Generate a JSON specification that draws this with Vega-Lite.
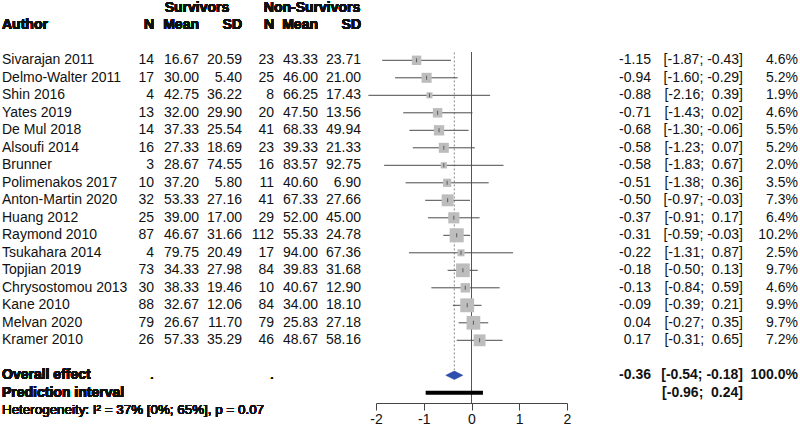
{
  "$schema": "https://vega.github.io/schema/vega-lite/v6.json",
  "padding": 0,
  "autosize": {"type": "pad"},
  "spacing": 0,
  "bounds": "flush",
  "config": {
    "view": {"stroke": null},
    "font": "Liberation Sans",
    "mark": {"font": "Liberation Sans", "fontSize": 14},
    "text": {"font": "Liberation Sans", "fontSize": 14, "color": "#111", "baseline": "middle"},
    "locale": {"number": {"decimal": ".", "thousands": ",", "grouping": [3], "currency": ["$", ""], "minus": "-"}}
  },
  "datasets": {
    "studies": [
      {"row": 1, "author": "Sivarajan 2011", "n1": 14, "m1": 16.67, "sd1": 20.59, "n2": 23, "m2": 43.33, "sd2": 23.71, "g": -1.15, "lo": -1.87, "hi": -0.43, "ci": "[-1.87; -0.43]", "w": 0.046},
      {"row": 2, "author": "Delmo-Walter 2011", "n1": 17, "m1": 30.00, "sd1": 5.40, "n2": 25, "m2": 46.00, "sd2": 21.00, "g": -0.94, "lo": -1.60, "hi": -0.29, "ci": "[-1.60; -0.29]", "w": 0.052},
      {"row": 3, "author": "Shin 2016", "n1": 4, "m1": 42.75, "sd1": 36.22, "n2": 8, "m2": 66.25, "sd2": 17.43, "g": -0.88, "lo": -2.16, "hi": 0.39, "ci": "[-2.16; \u00a00.39]", "w": 0.019},
      {"row": 4, "author": "Yates 2019", "n1": 13, "m1": 32.00, "sd1": 29.90, "n2": 20, "m2": 47.50, "sd2": 13.56, "g": -0.71, "lo": -1.43, "hi": 0.02, "ci": "[-1.43; \u00a00.02]", "w": 0.046},
      {"row": 5, "author": "De Mul 2018", "n1": 14, "m1": 37.33, "sd1": 25.54, "n2": 41, "m2": 68.33, "sd2": 49.94, "g": -0.68, "lo": -1.30, "hi": -0.06, "ci": "[-1.30; -0.06]", "w": 0.055},
      {"row": 6, "author": "Alsoufi 2014", "n1": 16, "m1": 27.33, "sd1": 18.69, "n2": 23, "m2": 39.33, "sd2": 21.33, "g": -0.58, "lo": -1.23, "hi": 0.07, "ci": "[-1.23; \u00a00.07]", "w": 0.052},
      {"row": 7, "author": "Brunner", "n1": 3, "m1": 28.67, "sd1": 74.55, "n2": 16, "m2": 83.57, "sd2": 92.75, "g": -0.58, "lo": -1.83, "hi": 0.67, "ci": "[-1.83; \u00a00.67]", "w": 0.020},
      {"row": 8, "author": "Polimenakos 2017", "n1": 10, "m1": 37.20, "sd1": 5.80, "n2": 11, "m2": 40.60, "sd2": 6.90, "g": -0.51, "lo": -1.38, "hi": 0.36, "ci": "[-1.38; \u00a00.36]", "w": 0.035},
      {"row": 9, "author": "Anton-Martin 2020", "n1": 32, "m1": 53.33, "sd1": 27.16, "n2": 41, "m2": 67.33, "sd2": 27.66, "g": -0.50, "lo": -0.97, "hi": -0.03, "ci": "[-0.97; -0.03]", "w": 0.073},
      {"row": 10, "author": "Huang 2012", "n1": 25, "m1": 39.00, "sd1": 17.00, "n2": 29, "m2": 52.00, "sd2": 45.00, "g": -0.37, "lo": -0.91, "hi": 0.17, "ci": "[-0.91; \u00a00.17]", "w": 0.064},
      {"row": 11, "author": "Raymond 2010", "n1": 87, "m1": 46.67, "sd1": 31.66, "n2": 112, "m2": 55.33, "sd2": 24.78, "g": -0.31, "lo": -0.59, "hi": -0.03, "ci": "[-0.59; -0.03]", "w": 0.102},
      {"row": 12, "author": "Tsukahara 2014", "n1": 4, "m1": 79.75, "sd1": 20.49, "n2": 17, "m2": 94.00, "sd2": 67.36, "g": -0.22, "lo": -1.31, "hi": 0.87, "ci": "[-1.31; \u00a00.87]", "w": 0.025},
      {"row": 13, "author": "Topjian 2019", "n1": 73, "m1": 34.33, "sd1": 27.98, "n2": 84, "m2": 39.83, "sd2": 31.68, "g": -0.18, "lo": -0.50, "hi": 0.13, "ci": "[-0.50; \u00a00.13]", "w": 0.097},
      {"row": 14, "author": "Chrysostomou 2013", "n1": 30, "m1": 38.33, "sd1": 19.46, "n2": 10, "m2": 40.67, "sd2": 12.90, "g": -0.13, "lo": -0.84, "hi": 0.59, "ci": "[-0.84; \u00a00.59]", "w": 0.046},
      {"row": 15, "author": "Kane 2010", "n1": 88, "m1": 32.67, "sd1": 12.06, "n2": 84, "m2": 34.00, "sd2": 18.10, "g": -0.09, "lo": -0.39, "hi": 0.21, "ci": "[-0.39; \u00a00.21]", "w": 0.099},
      {"row": 16, "author": "Melvan 2020", "n1": 79, "m1": 26.67, "sd1": 11.70, "n2": 79, "m2": 25.83, "sd2": 27.18, "g": 0.04, "lo": -0.27, "hi": 0.35, "ci": "[-0.27; \u00a00.35]", "w": 0.097},
      {"row": 17, "author": "Kramer 2010", "n1": 26, "m1": 57.33, "sd1": 35.29, "n2": 46, "m2": 48.67, "sd2": 58.16, "g": 0.17, "lo": -0.31, "hi": 0.65, "ci": "[-0.31; \u00a00.65]", "w": 0.072}
    ],
    "overall": [
      {"row": 19, "g": -0.36, "lo": -0.54, "hi": -0.18, "ci": "[-0.54; -0.18]", "w": 1.0}
    ],
    "prediction": [
      {"row": 20, "lo": -0.96, "hi": 0.24, "ci": "[-0.96; \u00a00.24]"}
    ]
  },
  "hconcat": [
    {
      "width": 376,
      "height": 402,
      "data": {"name": "studies"},
      "encoding": {
        "y": {"field": "row", "type": "quantitative", "scale": {"domain": [-2.389, 20.583], "reverse": true, "nice": false, "zero": false}, "axis": null}
      },
      "layer": [
        {"mark": {"type": "text", "align": "left", "fontSize": 14}, "encoding": {"x": {"datum": 2, "type": "quantitative", "scale": {"domain": [0, 376], "nice": false, "zero": false}, "axis": null}, "text": {"field": "author"}}},
        {"mark": {"type": "text", "align": "right", "fontSize": 14}, "encoding": {"x": {"datum": 154, "type": "quantitative"}, "text": {"field": "n1"}}},
        {"mark": {"type": "text", "align": "right", "fontSize": 14}, "encoding": {"x": {"datum": 199, "type": "quantitative"}, "text": {"field": "m1", "format": ".2f"}}},
        {"mark": {"type": "text", "align": "right", "fontSize": 14}, "encoding": {"x": {"datum": 242, "type": "quantitative"}, "text": {"field": "sd1", "format": ".2f"}}},
        {"mark": {"type": "text", "align": "right", "fontSize": 14}, "encoding": {"x": {"datum": 274, "type": "quantitative"}, "text": {"field": "n2"}}},
        {"mark": {"type": "text", "align": "right", "fontSize": 14}, "encoding": {"x": {"datum": 318, "type": "quantitative"}, "text": {"field": "m2", "format": ".2f"}}},
        {"mark": {"type": "text", "align": "right", "fontSize": 14}, "encoding": {"x": {"datum": 361, "type": "quantitative"}, "text": {"field": "sd2", "format": ".2f"}}},
        {"mark": {"type": "text", "align": "center", "fontSize": 14, "fontWeight": "bold", "text": "Survivors"}, "encoding": {"x": {"datum": 197, "type": "quantitative"}, "y": {"datum": -2}}},
        {"mark": {"type": "text", "align": "center", "fontSize": 14, "fontWeight": "bold", "text": "Non-Survivors"}, "encoding": {"x": {"datum": 312, "type": "quantitative"}, "y": {"datum": -2}}},
        {"mark": {"type": "text", "align": "left", "fontSize": 14, "fontWeight": "bold", "text": "Author"}, "encoding": {"x": {"datum": 2, "type": "quantitative"}, "y": {"datum": -1}}},
        {"mark": {"type": "text", "align": "right", "fontSize": 14, "fontWeight": "bold", "text": "N"}, "encoding": {"x": {"datum": 154, "type": "quantitative"}, "y": {"datum": -1}}},
        {"mark": {"type": "text", "align": "right", "fontSize": 14, "fontWeight": "bold", "text": "Mean"}, "encoding": {"x": {"datum": 199, "type": "quantitative"}, "y": {"datum": -1}}},
        {"mark": {"type": "text", "align": "right", "fontSize": 14, "fontWeight": "bold", "text": "SD"}, "encoding": {"x": {"datum": 242, "type": "quantitative"}, "y": {"datum": -1}}},
        {"mark": {"type": "text", "align": "right", "fontSize": 14, "fontWeight": "bold", "text": "N"}, "encoding": {"x": {"datum": 274, "type": "quantitative"}, "y": {"datum": -1}}},
        {"mark": {"type": "text", "align": "right", "fontSize": 14, "fontWeight": "bold", "text": "Mean"}, "encoding": {"x": {"datum": 318, "type": "quantitative"}, "y": {"datum": -1}}},
        {"mark": {"type": "text", "align": "right", "fontSize": 14, "fontWeight": "bold", "text": "SD"}, "encoding": {"x": {"datum": 361, "type": "quantitative"}, "y": {"datum": -1}}},
        {"mark": {"type": "text", "align": "left", "fontSize": 14, "fontWeight": "bold", "text": "Overall effect"}, "encoding": {"x": {"datum": 2, "type": "quantitative"}, "y": {"datum": 19}}},
        {"mark": {"type": "text", "align": "right", "fontSize": 14, "text": "."}, "encoding": {"x": {"datum": 154, "type": "quantitative"}, "y": {"datum": 19}}},
        {"mark": {"type": "text", "align": "right", "fontSize": 14, "text": "."}, "encoding": {"x": {"datum": 274, "type": "quantitative"}, "y": {"datum": 19}}},
        {"mark": {"type": "text", "align": "left", "fontSize": 14, "fontWeight": "bold", "text": "Prediction interval"}, "encoding": {"x": {"datum": 2, "type": "quantitative"}, "y": {"datum": 20}}},
        {"mark": {"type": "text", "align": "left", "fontSize": 13.4, "text": "Heterogeneity: I² = 37% [0%; 65%], p = 0.07"}, "encoding": {"x": {"datum": 2, "type": "quantitative"}, "y": {"datum": 21}}}
      ]
    },
    {
      "width": 191,
      "height": 402,
      "encoding": {
        "y": {"field": "row", "type": "quantitative", "scale": {"domain": [-2.389, 20.583], "reverse": true, "nice": false, "zero": false}, "axis": null}
      },
      "layer": [
        {
          "data": {"name": "studies"},
          "mark": {"type": "rule", "color": "#555", "strokeWidth": 1},
          "encoding": {
            "x": {"datum": 0, "type": "quantitative", "scale": {"domain": [-2, 2], "nice": false, "zero": false},
              "axis": {"values": [-2, -1, 0, 1, 2], "title": null, "grid": false, "tickSize": 7, "labelFontSize": 14, "labelFont": "Liberation Sans", "labelColor": "#111", "domainColor": "#444", "tickColor": "#444", "labelPadding": 2, "labelFlush": false}},
            "y": {"datum": 0.55},
            "y2": {"datum": 20.583}
          }
        },
        {
          "data": {"name": "overall"},
          "mark": {"type": "rule", "color": "#888", "strokeWidth": 1, "strokeDash": [2, 2]},
          "encoding": {
            "x": {"field": "g", "type": "quantitative"},
            "y": {"datum": 0.55},
            "y2": {"datum": 18.7}
          }
        },
        {
          "data": {"name": "studies"},
          "mark": {"type": "rule", "color": "#4a4a4a", "strokeWidth": 1},
          "encoding": {
            "x": {"field": "lo", "type": "quantitative"},
            "x2": {"field": "hi"},
            "y": {"field": "row", "type": "quantitative"}
          }
        },
        {
          "data": {"name": "studies"},
          "mark": {"type": "point", "shape": "square", "filled": true, "color": "#bdbdbd", "opacity": 1},
          "encoding": {
            "x": {"field": "g", "type": "quantitative"},
            "y": {"field": "row", "type": "quantitative"},
            "size": {"field": "w", "type": "quantitative", "scale": {"type": "linear", "domain": [0, 0.1], "range": [0, 194], "zero": true}, "legend": null}
          }
        },
        {
          "data": {"name": "studies"},
          "mark": {"type": "tick", "orient": "vertical", "color": "#333", "size": 4, "thickness": 1},
          "encoding": {
            "x": {"field": "g", "type": "quantitative"},
            "y": {"field": "row", "type": "quantitative"}
          }
        },
        {
          "data": {"name": "overall"},
          "mark": {"type": "point", "shape": "M-1,0L0,-0.5L1,0L0,0.5Z", "filled": true, "color": "#2f4fb0", "stroke": "#223d96", "strokeWidth": 0.5, "opacity": 1, "size": 289},
          "encoding": {
            "x": {"field": "g", "type": "quantitative"},
            "y": {"field": "row", "type": "quantitative"}
          }
        },
        {
          "data": {"name": "prediction"},
          "mark": {"type": "rule", "color": "#000", "strokeWidth": 4},
          "encoding": {
            "x": {"field": "lo", "type": "quantitative"},
            "x2": {"field": "hi"},
            "y": {"field": "row", "type": "quantitative"}
          }
        },
        {
          "data": {"values": [{}]},
          "mark": {"type": "text", "align": "center", "fontSize": 14, "fontWeight": "bold", "text": "Duration of CPR"},
          "encoding": {"x": {"datum": -0.08, "type": "quantitative"}, "y": {"datum": -1}}
        }
      ]
    },
    {
      "width": 233,
      "height": 402,
      "encoding": {
        "y": {"field": "row", "type": "quantitative", "scale": {"domain": [-2.389, 20.583], "reverse": true, "nice": false, "zero": false}, "axis": null}
      },
      "layer": [
        {"data": {"name": "studies"}, "mark": {"type": "text", "align": "right", "fontSize": 14}, "encoding": {"x": {"datum": 84, "type": "quantitative", "scale": {"domain": [0, 233], "nice": false, "zero": false}, "axis": null}, "text": {"field": "g", "format": ".2f"}}},
        {"data": {"name": "studies"}, "mark": {"type": "text", "align": "right", "fontSize": 14}, "encoding": {"x": {"datum": 176, "type": "quantitative"}, "text": {"field": "ci"}}},
        {"data": {"name": "studies"}, "mark": {"type": "text", "align": "right", "fontSize": 14}, "encoding": {"x": {"datum": 231, "type": "quantitative"}, "text": {"field": "w", "format": ".1%"}}},
        {"data": {"name": "overall"}, "mark": {"type": "text", "align": "right", "fontSize": 14, "fontWeight": "bold"}, "encoding": {"x": {"datum": 84, "type": "quantitative"}, "text": {"field": "g", "format": ".2f"}}},
        {"data": {"name": "overall"}, "mark": {"type": "text", "align": "right", "fontSize": 14, "fontWeight": "bold"}, "encoding": {"x": {"datum": 176, "type": "quantitative"}, "text": {"field": "ci"}}},
        {"data": {"name": "overall"}, "mark": {"type": "text", "align": "right", "fontSize": 14, "fontWeight": "bold"}, "encoding": {"x": {"datum": 231, "type": "quantitative"}, "text": {"field": "w", "format": ".1%"}}},
        {"data": {"name": "prediction"}, "mark": {"type": "text", "align": "right", "fontSize": 14, "fontWeight": "bold"}, "encoding": {"x": {"datum": 176, "type": "quantitative"}, "text": {"field": "ci"}}},
        {"data": {"values": [{}]}, "mark": {"type": "text", "align": "right", "fontSize": 14, "fontWeight": "bold", "text": "Hedge's g"}, "encoding": {"x": {"datum": 84, "type": "quantitative"}, "y": {"datum": -1}}},
        {"data": {"values": [{}]}, "mark": {"type": "text", "align": "right", "fontSize": 14, "fontWeight": "bold", "text": "95% CI"}, "encoding": {"x": {"datum": 176, "type": "quantitative"}, "y": {"datum": -1}}},
        {"data": {"values": [{}]}, "mark": {"type": "text", "align": "right", "fontSize": 14, "fontWeight": "bold", "text": "weight"}, "encoding": {"x": {"datum": 231, "type": "quantitative"}, "y": {"datum": -1}}}
      ]
    }
  ]
}
